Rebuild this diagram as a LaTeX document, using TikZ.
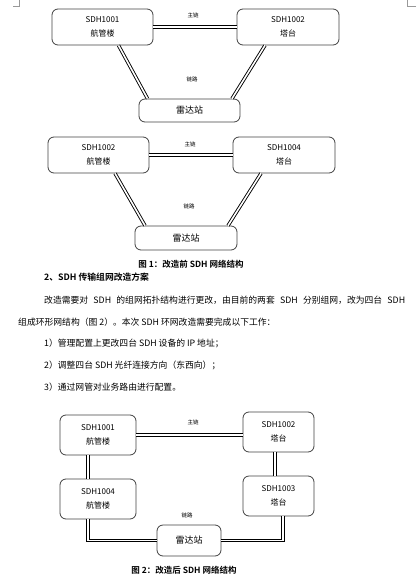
\documentclass[tikz,border=0pt]{standalone}
\usepackage{fontspec}
\setmainfont{Noto Sans CJK SC}[BoldFont={Noto Sans CJK SC Bold}]
\usetikzlibrary{calc}
\begin{document}
\begin{tikzpicture}[x=1pt,y=-1pt,
    site/.style={draw=black!75, line width=0.8pt, rounded corners=6pt, align=center,
        inner sep=0pt, font=\fontsize{8}{14}\selectfont},
    fibre/.style={draw=black, line width=0.9pt, double=white, double distance=1.6pt},
    tag/.style={font=\fontsize{5.5}{6}\selectfont, inner sep=0pt},
    caption/.style={font=\fontsize{8.5}{10}\selectfont\bfseries, inner sep=0pt},
    line/.style={font=\fontsize{8.8}{10}\selectfont, inner sep=0pt, anchor=west}]
            \useasboundingbox (0,0) rectangle (416,577);
            % page marks
            \draw[black!40, line width=0.4pt] (13,6) -- (19,6) -- (19,0);
            \draw[black!40, line width=0.4pt] (416,6) -- (407,6) -- (407,0);
            % figure 1, upper ring
            \node[site, minimum width=101pt, minimum height=36pt] (a1) at (102.5,27) {SDH1001\\航管楼};
            \node[site, minimum width=102pt, minimum height=36pt] (b1) at (288,27) {SDH1002\\塔台};
            \node[site, minimum width=101pt, minimum height=23pt] (c1) at (189.5,110.5) {\fontsize{9}{10}\selectfont 雷达站};
            \draw[fibre] (a1.east) -- (b1.west);
            \draw[fibre] ($(a1.south)+(16,0)$) -- ($(c1.north)+(-42,0)$);
            \draw[fibre] ($(b1.south)+(-23,0)$) -- ($(c1.north)+(42.5,0)$);
            \node[tag] (m1) at (193,15) {主链};
            \node[tag] (s1) at (192,79) {链路};
            % figure 1, lower ring
            \node[site, minimum width=101pt, minimum height=36pt] (a2) at (98.5,155) {SDH1002\\航管楼};
            \node[site, minimum width=102pt, minimum height=36pt] (b2) at (284,155) {SDH1004\\塔台};
            \node[site, minimum width=102pt, minimum height=24pt] (c2) at (186,238) {\fontsize{9}{10}\selectfont 雷达站};
            \draw[fibre] (a2.east) -- (b2.west);
            \draw[fibre] ($(a2.south)+(16.5,0)$) -- ($(c2.north)+(-41,0)$);
            \draw[fibre] ($(b2.south)+(-23,0)$) -- ($(c2.north)+(42,0)$);
            \node[tag] (m2) at (190,144) {主链};
            \node[tag] (s2) at (189,206) {链路};
            \node[caption] (cap1) at (191,264) {图 1：改造前 SDH 网络结构};
            % text
            \node[line, font=\fontsize{8.8}{10}\selectfont\bfseries] (head) at (44,277) {2、SDH 传输组网改造方案};
            \node[line] (p1) at (44,300) {\makebox[361pt][s]{改造需要对 SDH 的组网拓扑结构进行更改，由目前的两套 SDH 分别组网，改为四台 SDH}};
            \node[line] (p2) at (18,322) {组成环形网结构（图 2）。本次 SDH 环网改造需要完成以下工作：};
            \node[line] (p3) at (44,343) {1）管理配置上更改四台 SDH 设备的 IP 地址；};
            \node[line] (p4) at (44,365) {2）调整四台 SDH 光纤连接方向（东西向）；};
            \node[line] (p5) at (44,387) {3）通过网管对业务路由进行配置。};
            % figure 2, one ring
            \node[site, minimum width=76pt, minimum height=40pt] (a3) at (98,435) {SDH1001\\航管楼};
            \node[site, minimum width=71pt, minimum height=40pt] (b3) at (278.5,432) {SDH1002\\塔台};
            \node[site, minimum width=76pt, minimum height=40pt] (d3) at (98,499) {SDH1004\\航管楼};
            \node[site, minimum width=71pt, minimum height=40pt] (e3) at (278.5,496) {SDH1003\\塔台};
            \node[site, minimum width=64pt, minimum height=31pt] (c3) at (189,540.5) {\fontsize{9}{10}\selectfont 雷达站};
            \draw[fibre] (a3.east) -- (a3.east -| b3.west);
            \draw[fibre] ($(a3.south)+(-10,0)$) -- ($(d3.north)+(-10,0)$);
            \draw[fibre] ($(b3.south)+(-3.5,0)$) -- ($(e3.north)+(-3.5,0)$);
            \draw[fibre] ($(d3.south)+(-10,0)$) |- (c3.west);
            \draw[fibre] (c3.east) -| ($(e3.south)+(4.5,0)$);
            \node[tag] (m3) at (193,422) {主链};
            \node[tag] (s3) at (187,515) {链路};
            \node[caption] (cap2) at (184,570) {图 2：改造后 SDH 网络结构};
        \end{tikzpicture}
\end{document}
